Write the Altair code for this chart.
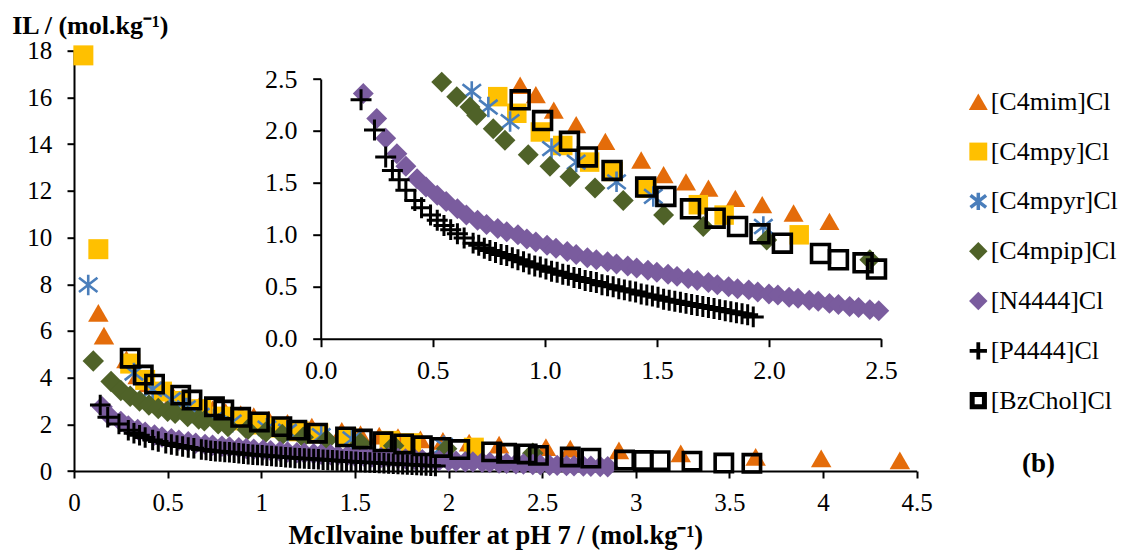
import altair as alt
import pandas as pd

# ---------------- data ----------------
names = ["[C4mim]Cl", "[C4mpy]Cl", "[C4mpyr]Cl", "[C4mpip]Cl",
         "[N4444]Cl", "[P4444]Cl", "[BzChol]Cl"]

mim_x = [0.13, 0.16, 0.28, 0.34, 0.40, 0.46, 0.53, 0.60, 0.67, 0.74, 0.81, 0.89,
         0.96, 1.04, 1.14, 1.27, 1.43, 1.53, 1.63, 1.73, 1.85, 1.97, 2.11, 2.27,
         2.52, 2.65, 2.91, 3.24, 3.64, 3.99, 4.41]
mim_y = [6.77, 5.80, 4.78, 4.10, 3.75, 3.45, 3.20, 2.98, 2.80, 2.65, 2.52, 2.44,
         2.35, 2.20, 2.06, 1.90, 1.72, 1.58, 1.51, 1.45, 1.35, 1.29, 1.21, 1.13,
         1.02, 0.96, 0.88, 0.75, 0.60, 0.54, 0.46]

py_x = [0.05, 0.13, 0.30, 0.38, 0.47, 0.57, 0.68, 0.79, 0.875, 0.98, 1.08, 1.20,
        1.305, 1.455, 1.685, 1.80, 2.135]
py_y = [17.8, 9.5, 4.6, 3.9, 3.4, 3.0, 2.65, 2.33, 2.17, 1.99, 1.86, 1.70,
        1.61, 1.45, 1.29, 1.19, 1.00]

pyr_x = [0.076, 0.32, 0.42, 0.52, 0.60, 0.674, 0.748, 0.845, 1.03, 1.14, 1.32,
         1.484, 1.975]
pyr_y = [7.97, 4.2, 3.5, 3.05, 2.7, 2.38, 2.23, 2.09, 1.83, 1.70, 1.51, 1.37, 1.08]

pip_x = [0.103, 0.198, 0.25, 0.30, 0.35, 0.40, 0.45, 0.50, 0.54, 0.607, 0.666,
         0.696, 0.77, 0.822, 0.926, 1.023, 1.112, 1.224, 1.35, 1.53, 1.707, 1.99, 2.45]
pip_y = [4.71, 3.83, 3.45, 3.20, 3.00, 2.83, 2.68, 2.56, 2.47, 2.33, 2.23,
         2.15, 2.02, 1.91, 1.77, 1.66, 1.56, 1.45, 1.33, 1.19, 1.08, 0.95, 0.76]

n4_x = [0.15, 0.19, 0.25, 0.29, 0.34, 0.38, 0.43, 0.47, 0.52, 0.56,
        0.61, 0.65, 0.70, 0.74, 0.79, 0.83, 0.88, 0.92, 0.96, 1.01,
        1.05, 1.10, 1.14, 1.19, 1.23, 1.28, 1.32, 1.37, 1.41, 1.46,
        1.50, 1.55, 1.59, 1.64, 1.68, 1.73, 1.77, 1.82, 1.86, 1.91,
        1.95, 2.00, 2.04, 2.09, 2.13, 2.18, 2.22, 2.27, 2.31, 2.36,
        2.40, 2.45, 2.49, 2.54, 2.58, 2.63, 2.67, 2.72, 2.76, 2.81, 2.85]
n4_y = [2.75, 2.36, 2.12, 1.93, 1.78, 1.66, 1.54, 1.46, 1.38, 1.32,
        1.25, 1.19, 1.14, 1.10, 1.06, 1.03, 1.00, 0.96, 0.93, 0.90,
        0.87, 0.84, 0.81, 0.78, 0.76, 0.74, 0.72, 0.70, 0.68, 0.66,
        0.64, 0.62, 0.60, 0.58, 0.56, 0.54, 0.52, 0.50, 0.48, 0.47,
        0.45, 0.43, 0.42, 0.40, 0.39, 0.37, 0.36, 0.34, 0.33, 0.31,
        0.30, 0.28, 0.27, 0.25, 0.24, 0.23, 0.22, 0.21, 0.20, 0.19, 0.18]

p4_x = [0.14, 0.18, 0.24, 0.29, 0.32, 0.35, 0.38, 0.42, 0.45, 0.49,
        0.52, 0.55, 0.58, 0.61, 0.64,
        0.68, 0.705, 0.73, 0.755, 0.78, 0.805, 0.83, 0.855, 0.88, 0.905,
        0.93, 0.955, 0.98, 1.005, 1.03, 1.055, 1.08, 1.105, 1.13, 1.155,
        1.18, 1.205, 1.23, 1.255, 1.28, 1.305, 1.33, 1.355, 1.38, 1.405,
        1.43, 1.455, 1.48, 1.505, 1.53, 1.555, 1.58, 1.605, 1.63, 1.655,
        1.68, 1.705, 1.73, 1.755, 1.78, 1.805, 1.83, 1.855, 1.88, 1.905, 1.93]
p4_y = [2.83, 2.30, 2.01, 1.75, 1.62, 1.53, 1.43, 1.33, 1.26, 1.19,
        1.14, 1.09, 1.05, 1.01, 0.97,
        0.92, 0.90, 0.87, 0.85, 0.83, 0.81, 0.80, 0.78, 0.76, 0.74,
        0.72, 0.70, 0.69, 0.67, 0.65, 0.64, 0.62, 0.61, 0.59, 0.58,
        0.56, 0.55, 0.54, 0.52, 0.51, 0.50, 0.48, 0.47, 0.46, 0.45,
        0.43, 0.42, 0.41, 0.40, 0.38, 0.37, 0.36, 0.35, 0.34, 0.33,
        0.32, 0.31, 0.30, 0.29, 0.28, 0.27, 0.26, 0.25, 0.24, 0.23, 0.21]

bz_x = [0.30, 0.37, 0.43, 0.57, 0.63, 0.75, 0.80, 0.89, 0.99, 1.11, 1.19, 1.30,
        1.45, 1.54, 1.65, 1.76, 1.86, 1.96, 2.06, 2.23, 2.31, 2.42, 2.48, 2.65,
        2.76, 2.94, 3.04, 3.13, 3.30, 3.47, 3.62]
bz_y = [4.83, 4.11, 3.72, 3.25, 3.04, 2.75, 2.61, 2.30, 2.10, 1.90, 1.75, 1.62,
        1.46, 1.37, 1.25, 1.16, 1.08, 1.01, 0.92, 0.82, 0.76, 0.73, 0.67, 0.60,
        0.55, 0.47, 0.45, 0.44, 0.42, 0.34, 0.33]

main_x_ticks = [0, 0.5, 1, 1.5, 2, 2.5, 3, 3.5, 4, 4.5]
main_y_ticks = [0, 2, 4, 6, 8, 10, 12, 14, 16, 18]
inset_ticks = [0, 0.5, 1.0, 1.5, 2.0, 2.5]

series_x = [mim_x, py_x, pyr_x, pip_x, n4_x, p4_x, bz_x]
series_y = [mim_y, py_y, pyr_y, pip_y, n4_y, p4_y, bz_y]

rows = []
for n, xs, ys in zip(names, series_x, series_y):
    for a, b in zip(xs, ys):
        rows.append({"series": n, "x": a, "y": b})
df = pd.DataFrame(rows)
legend_df = pd.DataFrame({"series": names})
label_df = pd.DataFrame({"t": ["(b)"]})

# ---------------- styles ----------------
FONT = "Liberation Serif"
ASTER = "M0,-1L0,1M-0.9,-0.7L0.9,0.7M-0.9,0.7L0.9,-0.7"
PLUS = "M-1,0L1,0M0,-1L0,1"

# shape, colour, filled, strokeWidth, main size, inset size, legend size, legend stroke
styles = {
    "[C4mim]Cl":  ("triangle-up", "#E46C0A", True, 0, 420, 400, 360, 0),
    "[C4mpy]Cl":  ("square", "#FFC000", True, 0, 400, 380, 320, 0),
    "[C4mpyr]Cl": (ASTER, "#4A7EBB", False, 2.6, 420, 420, 300, 3.5),
    "[C4mpip]Cl": ("diamond", "#4F6228", True, 0, 460, 440, 340, 0),
    "[N4444]Cl":  ("diamond", "#7A5C9E", True, 0, 460, 440, 340, 0),
    "[P4444]Cl":  (PLUS, "#000000", False, 3.0, 420, 440, 300, 3.8),
    "[BzChol]Cl": ("square", "#000000", False, 3.6, 300, 320, 150, 5),
}

# geometry (pixels inside the main plot area)
W, H = 842.7, 420.3
INSET_X0, INSET_X1 = 246.7, 807.0
INSET_Y0, INSET_Y1 = 288.0, 28.3

main_x_axis = alt.Axis(values=main_x_ticks, format="~g", orient="bottom",
                       title="McIlvaine buffer at pH 7 / (mol.kg⁻¹)",
                       titleFontSize=26.5, titleFontWeight="bold",
                       titleX=W / 2, titleY=72, titleAlign="center",
                       titleBaseline="alphabetic",
                       labelFontSize=25, tickSize=7, labelPadding=12,
                       labelFlush=False, labelOverlap=False)
main_y_axis = alt.Axis(values=main_y_ticks, format="d", orient="left",
                       title="IL / (mol.kg⁻¹)", titleAngle=0,
                       titleX=-62.3, titleY=-17.7, titleAlign="left",
                       titleBaseline="alphabetic", titleFontSize=26,
                       titleFontWeight="bold",
                       labelFontSize=25, tickSize=7, labelPadding=15.3,
                       labelFlush=False, labelOverlap=False)
inset_x_axis = alt.Axis(values=inset_ticks, format=".1f", orient="bottom",
                        offset=INSET_Y0 - H, title=None,
                        labelFontSize=26, tickSize=8, labelPadding=11,
                        labelFlush=False, labelOverlap=False)
inset_y_axis = alt.Axis(values=inset_ticks, format=".1f", orient="left",
                        offset=-INSET_X0, title=None,
                        labelFontSize=26, tickSize=8, labelPadding=15.7,
                        labelFlush=False, labelOverlap=False)


def make_mark(chart, name, size, sw=None):
    shape, color, filled, stroke_w, *_ = styles[name]
    if sw is None:
        sw = stroke_w
    if filled:
        return chart.mark_point(shape=shape, filled=True, color=color,
                                size=size, opacity=1, strokeWidth=0)
    return chart.mark_point(shape=shape, filled=False, color=color, size=size,
                            opacity=1, strokeWidth=sw)


layers = []
# main panel
for i, name in enumerate(names):
    st = styles[name]
    base = alt.Chart(df).transform_filter(alt.datum.series == name)
    layers.append(
        make_mark(base, name, st[4]).encode(
            x=alt.X("x:Q", scale=alt.Scale(domain=[0, 4.5], nice=False, zero=False),
                    axis=main_x_axis if i == 0 else None),
            y=alt.Y("y:Q", scale=alt.Scale(domain=[0, 18], nice=False, zero=False),
                    axis=main_y_axis if i == 0 else None),
        )
    )
# inset panel
for i, name in enumerate(names):
    st = styles[name]
    base = (alt.Chart(df)
            .transform_filter(alt.datum.series == name)
            .transform_filter("datum.x <= 2.5 && datum.y <= 2.5"))
    layers.append(
        make_mark(base, name, st[5]).encode(
            x=alt.X("x:Q", scale=alt.Scale(domain=[0, 2.5], range=[INSET_X0, INSET_X1],
                                           nice=False, zero=False),
                    axis=inset_x_axis if i == 0 else None),
            y=alt.Y("y:Q", scale=alt.Scale(domain=[0, 2.5], range=[INSET_Y0, INSET_Y1],
                                           nice=False, zero=False),
                    axis=inset_y_axis if i == 0 else None),
        )
    )

# legend
leg_scale = alt.Scale(type="point", domain=names, range=[51, 350], padding=0)
for name in names:
    st = styles[name]
    base = alt.Chart(legend_df).transform_filter(alt.datum.series == name)
    layers.append(
        make_mark(base, name, st[6], st[7]).encode(
            x=alt.value(904.3),
            y=alt.Y("series:N", scale=leg_scale, axis=None),
        )
    )
layers.append(
    alt.Chart(legend_df).mark_text(align="left", baseline="middle", font=FONT,
                                   fontSize=26, color="black").encode(
        x=alt.value(916.7),
        y=alt.Y("series:N", scale=leg_scale, axis=None),
        text="series:N",
    )
)
layers.append(
    alt.Chart(label_df).mark_text(align="center", baseline="alphabetic", font=FONT,
                                  fontSize=27, fontWeight="bold", color="black").encode(
        x=alt.value(964.5), y=alt.value(421.3), text="t:N")
)

chart = (
    alt.layer(*layers)
    .resolve_scale(x="independent", y="independent")
    .properties(width=W, height=H,
                padding={"left": 74, "top": 50.7, "right": 1123 - 74 - W, "bottom": 551 - 50.7 - H},
                autosize=alt.AutoSizeParams(type="none"),
                background="white")
    .configure_view(stroke=None)
    .configure_axis(labelFont=FONT, titleFont=FONT, labelColor="black",
                    titleColor="black", domainColor="black", tickColor="black",
                    domainWidth=2, tickWidth=2, grid=False)
)

chart.save("out.html", embed_options={"renderer": "svg", "actions": False})
